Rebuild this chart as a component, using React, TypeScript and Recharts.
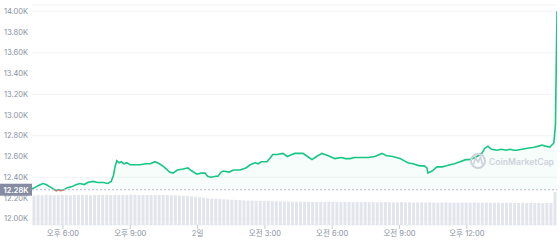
import {
  ComposedChart,
  BarChart,
  Bar,
  Area,
  XAxis,
  YAxis,
  CartesianGrid,
  ReferenceLine,
} from 'recharts';

// hours from 오후 6:00
const hours = [
  -1.38, -1.25, -1.1, -0.89, -0.75, -0.6, -0.45, -0.3, -0.2, -0.1,
  0.05, 0.2, 0.4, 0.6, 0.76, 0.95, 1.1, 1.34, 1.55, 1.8,
  2.0, 2.15, 2.25, 2.32, 2.4, 2.5, 2.6, 2.72, 2.85, 3.0,
  3.2, 3.43, 3.7, 3.9, 4.1, 4.3, 4.5, 4.75, 4.9, 5.1,
  5.35, 5.57, 5.75, 5.97, 6.15, 6.33, 6.45, 6.6, 6.8, 6.91,
  7.05, 7.15, 7.4, 7.6, 7.89, 8.15, 8.35, 8.56, 8.7, 8.85,
  9.09, 9.25, 9.35, 9.55, 9.8, 10.0, 10.2, 10.34, 10.55, 10.7,
  10.9, 11.1, 11.3, 11.54, 11.8, 12.0, 12.12, 12.4, 12.6, 12.8,
  13.0, 13.3, 13.6, 13.9, 14.22, 14.4, 14.7, 15.02, 15.2, 15.37,
  15.6, 15.9, 16.1, 16.22, 16.27, 16.45, 16.67, 16.9, 17.1, 17.25,
  17.45, 17.69, 17.95, 18.1, 18.27, 18.45, 18.67, 18.8, 18.94, 19.1,
  19.34, 19.55, 19.75, 19.93, 20.1, 20.2, 20.45, 20.7, 21.0, 21.2,
  21.35, 21.5, 21.7, 21.88, 21.95, 22.02,
];

// price in thousands
const prices = [
  12.29, 12.3, 12.32, 12.34, 12.33, 12.31, 12.29, 12.27, 12.28, 12.27,
  12.28, 12.3, 12.31, 12.33, 12.34, 12.33, 12.35, 12.36, 12.35, 12.35,
  12.34, 12.36, 12.42, 12.5, 12.56, 12.54, 12.55, 12.53, 12.54, 12.52,
  12.52, 12.52, 12.53, 12.53, 12.55, 12.53, 12.5, 12.45, 12.44, 12.47,
  12.48, 12.49, 12.46, 12.43, 12.44, 12.44, 12.41, 12.4, 12.41, 12.41,
  12.45, 12.46, 12.45, 12.47, 12.47, 12.49, 12.52, 12.54, 12.53, 12.55,
  12.55, 12.59, 12.62, 12.62, 12.63, 12.6, 12.62, 12.63, 12.63, 12.63,
  12.6, 12.57, 12.6, 12.63, 12.61, 12.59, 12.58, 12.59, 12.58, 12.58,
  12.59, 12.59, 12.59, 12.6, 12.63, 12.61, 12.6, 12.58, 12.56, 12.54,
  12.53, 12.51, 12.51, 12.49, 12.44, 12.46, 12.5, 12.5, 12.51, 12.52,
  12.53, 12.55, 12.57, 12.57, 12.58, 12.6, 12.63, 12.68, 12.7, 12.67,
  12.66, 12.67, 12.66, 12.67, 12.66, 12.66, 12.67, 12.68, 12.69, 12.7,
  12.71, 12.7, 12.69, 12.73, 12.9, 14.0,
];

// 24h volume (billions), oldest first
const volumes = [
  13.4, 13.6, 13.5, 13.7, 13.6, 13.5, 13.6, 13.7, 13.6, 13.5,
  13.6, 13.7, 13.6, 13.6, 13.5, 13.7, 13.6, 13.6, 13.7, 13.6,
  13.7, 13.6, 13.6, 13.7, 13.8, 13.7, 13.6, 13.7, 13.6, 13.7,
  13.6, 13.7, 13.6, 13.6, 13.5, 13.5, 13.4, 13.3, 13.2, 13.0,
  12.8, 12.6, 12.4, 12.2, 12.0, 11.9, 11.8, 11.7, 11.6, 11.5,
  11.4, 11.3, 11.2, 11.1, 11.1, 11.0, 11.0, 10.9, 10.9, 10.8,
  10.8, 10.7, 10.7, 10.7, 10.6, 10.6, 10.6, 10.6, 10.5, 10.5,
  10.5, 10.5, 10.5, 10.6, 10.5, 10.5, 10.4, 10.5, 10.5, 10.4,
  10.4, 10.4, 10.5, 10.4, 10.4, 10.3, 10.4, 10.4, 10.3, 10.3,
  10.3, 10.4, 10.3, 10.3, 10.2, 10.3, 10.3, 10.2, 10.3, 10.2,
  10.2, 10.2, 10.3, 10.2, 10.2, 10.1, 10.2, 10.2, 10.1, 10.2,
  10.1, 10.1, 10.2, 10.1, 10.1, 10.1, 10.0, 10.1, 10.1, 10.0,
  10.0, 10.1, 10.0, 10.0, 10.0, 10.0, 9.9, 10.0, 10.0, 15.0,
];

const xTicks = [0, 3, 6, 9, 12, 15, 18];
const xLabels = ['오후 6:00', '오후 9:00', '2일', '오전 3:00', '오전 6:00', '오전 9:00', '오후 12:00'];
const yTicks = [12.0, 12.2, 12.4, 12.6, 12.8, 13.0, 13.2, 13.4, 13.6, 13.8, 14.0];
const OPEN = 12.28;

const W = 560;
const H = 241;
const margin = { top: 5, right: 3, left: 32, bottom: 16 };
const font = 'Inter, "Noto Sans CJK KR", sans-serif';
const axisColor = '#8a91a3';

const priceData = hours.map((t, i) => ({ t, p: prices[i] }));
const volData = volumes.map((v, i) => ({ i, v }));

const pMax = Math.max(...prices);
const pMin = Math.min(...prices);
const splitOff = (pMax - OPEN) / (pMax - pMin);

const OpenLabel = (props: any) => {
  const y = props.viewBox.y;
  return (
    <g>
      <rect x={0} y={y - 6} width={32} height={12} fill="#858ca2" />
      <text
        x={16}
        y={y + 3}
        textAnchor="middle"
        fill="#fff"
        fontSize={7.5}
        fontWeight={600}
        fontFamily={font}
      >
        {OPEN.toFixed(2)}K
      </text>
    </g>
  );
};

export default function App() {
  return (
    <div style={{ position: 'absolute', left: 0, top: 0, width: W, height: H, background: '#fff' }}>
      <div style={{ position: 'absolute', left: 0, top: 0 }}>
        <ComposedChart
          width={W}
          height={H}
          data={priceData}
          margin={{ top: margin.top, right: margin.right, left: 0, bottom: 0 }}
        >
          <defs>
            <linearGradient id="strokeSplit" x1="0" y1="0" x2="0" y2="1">
              <stop offset={splitOff} stopColor="#16c784" />
              <stop offset={splitOff} stopColor="#c2706a" />
            </linearGradient>
            <linearGradient id="fillUp" x1="0" y1="0" x2="0" y2="1">
              <stop offset="0%" stopColor="#16c784" stopOpacity={0.14} />
              <stop offset="100%" stopColor="#16c784" stopOpacity={0.05} />
            </linearGradient>
          </defs>
          <CartesianGrid vertical={false} stroke="#f0f2f5" />
          <XAxis
            dataKey="t"
            type="number"
            domain={[-1.38, 22.02]}
            ticks={xTicks}
            tickFormatter={(v) => xLabels[xTicks.indexOf(v)] ?? ''}
            height={16}
            axisLine={false}
            tickSize={4}
            tickMargin={2}
            tickLine={{ stroke: '#c9ced8' }}
            tick={{ fontSize: 7.5, fill: axisColor, fontFamily: font }}
            allowDataOverflow
          />
          <YAxis
            width={32}
            domain={[11.94, 14.06]}
            ticks={yTicks}
            tickFormatter={(v) => `${v.toFixed(2)}K`}
            axisLine={false}
            tickLine={false}
            tickSize={0}
            tickMargin={4}
            tick={{ fontSize: 7.5, fill: axisColor, fontFamily: font }}
            allowDataOverflow
          />
          <ReferenceLine
            y={OPEN}
            stroke="#b4bbc9"
            strokeDasharray="2 2"
            strokeWidth={1}
            label={<OpenLabel />}
          />
          <Area
            type="linear"
            dataKey="p"
            baseValue={OPEN}
            stroke="url(#strokeSplit)"
            strokeWidth={1.6}
            fill="url(#fillUp)"
            dot={false}
            activeDot={false}
            isAnimationActive={false}
          />
        </ComposedChart>
      </div>
      <div style={{ position: 'absolute', left: 0, top: 0, pointerEvents: 'none' }}>
        <BarChart width={W} height={H} data={volData} margin={margin} barCategoryGap={0.5}>
          <XAxis dataKey="i" hide />
          <YAxis hide domain={[0, 100]} />
          <Bar dataKey="v" fill="#e2e5ec" isAnimationActive={false} />
        </BarChart>
      </div>
      <svg
        width={94}
        height={22}
        style={{ position: 'absolute', left: 466, top: 150, pointerEvents: 'none', overflow: 'visible' }}
      >
        <circle cx={12} cy={11} r={7} fill="none" stroke="#cdd2db" strokeWidth={2} />
        <path d="M7.5 14.5 L9.5 7.5 L12 12 L14.5 7.5 L16.5 14.5" fill="none" stroke="#cdd2db" strokeWidth={1.6} />
        <text x={23} y={14.5} fontSize={8.6} fontWeight={600} fill="#cdd2db" fontFamily={font}>
          CoinMarketCap
        </text>
      </svg>
    </div>
  );
}
